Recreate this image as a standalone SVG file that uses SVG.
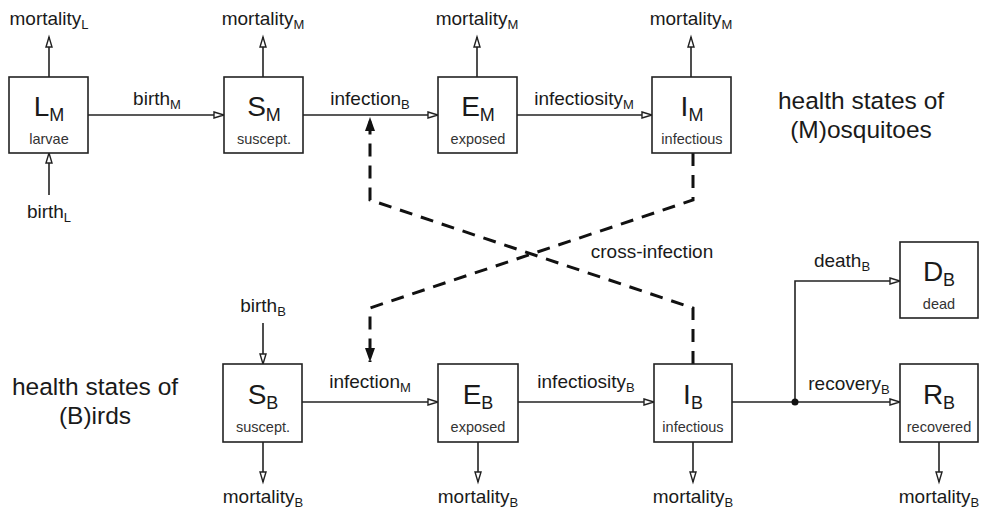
<svg xmlns="http://www.w3.org/2000/svg" width="987" height="515" viewBox="0 0 987 515">
  <style>
    text { font-family: "Liberation Sans", Arial, sans-serif; fill: #1a1a1a; }
    .box { fill: #fff; stroke: #222; stroke-width: 1.6; }
    .big { font-size: 28px; text-anchor: middle; }
    .big tspan.sub { font-size: 18px; }
    .small { font-size: 14.5px; text-anchor: middle; fill: #333; }
    .lbl { font-size: 19px; text-anchor: middle; }
    .lbl tspan.sub { font-size: 13px; }
    .title { font-size: 24.5px; text-anchor: middle; }
    .flow { fill: none; stroke: #222; stroke-width: 1.6; marker-end: url(#open); }
    .wire { fill: none; stroke: #222; stroke-width: 1.6; }
    .cross { fill: none; stroke: #111; stroke-width: 3; stroke-dasharray: 13 9; marker-end: url(#solid); }
  </style>
  <defs>
    <marker id="open" markerUnits="userSpaceOnUse" markerWidth="14" markerHeight="10" refX="11" refY="4" orient="auto">
      <path d="M1,1 L11,4 L1,7 z" fill="#fff" stroke="#222" stroke-width="1.4"/>
    </marker>
    <marker id="solid" markerUnits="userSpaceOnUse" markerWidth="16" markerHeight="12" refX="14" refY="5" orient="auto">
      <path d="M0,0 L14,5 L0,10 z" fill="#111"/>
    </marker>
  </defs>

  <!-- section headings -->
  <text class="title" x="861" y="109">health states of</text>
  <text class="title" x="861" y="138">(M)osquitoes</text>
  <text class="title" x="95" y="395">health states of</text>
  <text class="title" x="95" y="424">(B)irds</text>

  <!-- flows between compartments -->
  <g id="connectors">
    <!-- mosquito row -->
    <path class="flow" d="M88,115 H224"/>
    <path class="flow" d="M303,115 H438"/>
    <path class="flow" d="M517,115 H652"/>
    <path class="flow" d="M49,195 V153"/>
    <path class="flow" d="M49,77 V37"/>
    <path class="flow" d="M263,77 V37"/>
    <path class="flow" d="M477,77 V37"/>
    <path class="flow" d="M691,77 V37"/>
    <!-- bird row -->
    <path class="flow" d="M263,323 V364"/>
    <path class="flow" d="M302,402 H438"/>
    <path class="flow" d="M518,402 H654"/>
    <path class="wire" d="M732,402 H795"/>
    <path class="flow" d="M795,402 H900"/>
    <path class="flow" d="M795,402 V281 H900"/>
    <circle cx="795" cy="402" r="3.5" fill="#111"/>
    <path class="flow" d="M263,442 V482"/>
    <path class="flow" d="M478,442 V482"/>
    <path class="flow" d="M693,442 V482"/>
    <path class="flow" d="M939,442 V482"/>
    <!-- cross-infection -->
    <path class="cross" d="M693,153 V200 L370,308 V362"/>
    <path class="cross" d="M693,364 V308 L370,200 V117"/>
    <text class="lbl" x="652" y="258">cross-infection</text>
  </g>

  <!-- flow labels -->
  <text class="lbl" x="49" y="25">mortality<tspan class="sub" dy="4">L</tspan></text>
  <text class="lbl" x="263" y="25">mortality<tspan class="sub" dy="4">M</tspan></text>
  <text class="lbl" x="477" y="25">mortality<tspan class="sub" dy="4">M</tspan></text>
  <text class="lbl" x="691" y="25">mortality<tspan class="sub" dy="4">M</tspan></text>
  <text class="lbl" x="49" y="218">birth<tspan class="sub" dy="4">L</tspan></text>
  <text class="lbl" x="157" y="105">birth<tspan class="sub" dy="4">M</tspan></text>
  <text class="lbl" x="370" y="105">infection<tspan class="sub" dy="4">B</tspan></text>
  <text class="lbl" x="584" y="105">infectiosity<tspan class="sub" dy="4">M</tspan></text>
  <text class="lbl" x="263" y="312">birth<tspan class="sub" dy="4">B</tspan></text>
  <text class="lbl" x="370" y="388">infection<tspan class="sub" dy="4">M</tspan></text>
  <text class="lbl" x="586" y="388">infectiosity<tspan class="sub" dy="4">B</tspan></text>
  <text class="lbl" x="842" y="267">death<tspan class="sub" dy="4">B</tspan></text>
  <text class="lbl" x="849" y="390">recovery<tspan class="sub" dy="4">B</tspan></text>
  <text class="lbl" x="263" y="503">mortality<tspan class="sub" dy="4">B</tspan></text>
  <text class="lbl" x="478" y="503">mortality<tspan class="sub" dy="4">B</tspan></text>
  <text class="lbl" x="693" y="503">mortality<tspan class="sub" dy="4">B</tspan></text>
  <text class="lbl" x="939" y="503">mortality<tspan class="sub" dy="4">B</tspan></text>

  <!-- mosquito compartments -->
  <g id="LM">
    <rect class="box" x="9" y="77" width="79" height="76"/>
    <text class="big" x="49" y="116">L<tspan class="sub" dy="5">M</tspan></text>
    <text class="small" x="49" y="144">larvae</text>
  </g>
  <g id="SM">
    <rect class="box" x="224" y="77" width="79" height="76"/>
    <text class="big" x="264" y="116">S<tspan class="sub" dy="5">M</tspan></text>
    <text class="small" x="264" y="144">suscept.</text>
  </g>
  <g id="EM">
    <rect class="box" x="438" y="77" width="79" height="76"/>
    <text class="big" x="478" y="116">E<tspan class="sub" dy="5">M</tspan></text>
    <text class="small" x="478" y="144">exposed</text>
  </g>
  <g id="IM">
    <rect class="box" x="652" y="77" width="79" height="76"/>
    <text class="big" x="692" y="116">I<tspan class="sub" dy="5">M</tspan></text>
    <text class="small" x="692" y="144">infectious</text>
  </g>

  <!-- bird compartments -->
  <g id="SB">
    <rect class="box" x="223" y="364" width="79" height="78"/>
    <text class="big" x="263" y="404">S<tspan class="sub" dy="5">B</tspan></text>
    <text class="small" x="263" y="432">suscept.</text>
  </g>
  <g id="EB">
    <rect class="box" x="438" y="364" width="80" height="78"/>
    <text class="big" x="478" y="404">E<tspan class="sub" dy="5">B</tspan></text>
    <text class="small" x="478" y="432">exposed</text>
  </g>
  <g id="IB">
    <rect class="box" x="654" y="364" width="78" height="78"/>
    <text class="big" x="693" y="404">I<tspan class="sub" dy="5">B</tspan></text>
    <text class="small" x="693" y="432">infectious</text>
  </g>
  <g id="DB">
    <rect class="box" x="900" y="242" width="78" height="76"/>
    <text class="big" x="939" y="281">D<tspan class="sub" dy="5">B</tspan></text>
    <text class="small" x="939" y="309">dead</text>
  </g>
  <g id="RB">
    <rect class="box" x="900" y="364" width="78" height="78"/>
    <text class="big" x="939" y="404">R<tspan class="sub" dy="5">B</tspan></text>
    <text class="small" x="939" y="432">recovered</text>
  </g>
</svg>
